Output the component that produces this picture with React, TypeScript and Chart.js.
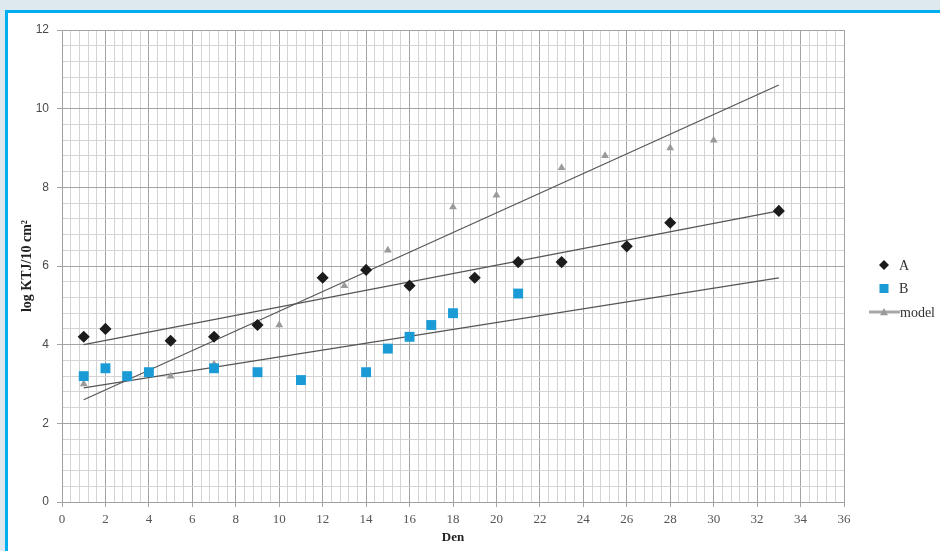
import React, { useEffect, useRef } from "react";
import { Chart, registerables } from "chart.js";

Chart.register(...registerables);

// ---- data ----
const daysA = [1, 2, 5, 7, 9, 12, 14, 16, 19, 21, 23, 26, 28, 33];
const valuesA = [4.2, 4.4, 4.1, 4.2, 4.5, 5.7, 5.9, 5.5, 5.7, 6.1, 6.1, 6.5, 7.1, 7.4];

const daysB = [1, 2, 3, 4, 7, 9, 11, 14, 15, 16, 17, 18, 21];
const valuesB = [3.2, 3.4, 3.2, 3.3, 3.4, 3.3, 3.1, 3.3, 3.9, 4.2, 4.5, 4.8, 5.3];

const daysModel = [1, 5, 7, 10, 13, 15, 18, 20, 23, 25, 28, 30];
const valuesModel = [3.0, 3.2, 3.5, 4.5, 5.5, 6.4, 7.5, 7.8, 8.5, 8.8, 9.0, 9.2];

const trendDays = [1, 33];
const trendA = [4.0, 7.4];
const trendB = [2.9, 5.7];
const trendModel = [2.6, 10.6];

const seriesLabels = ["A", "B", "model"];
const xTitle = "Den";
const yTitle = "log KTJ/10 cm²";

const X_MIN = 0, X_MAX = 36, Y_MIN = 0, Y_MAX = 12, MINOR = 0.4;

const pts = (xs: number[], ys: number[]) => xs.map((x, i) => ({ x, y: ys[i] }));
const isMajor = (v: number) => Math.round(v * 10) % 20 === 0;

const COLOR_A = "#1c1c1c";
const COLOR_B = "#1b9bd6";
const COLOR_M = "#9a9a9a";
const COLOR_TREND = "#555555";

const legendPlugin = {
  id: "customLegend",
  afterDraw(chart: any) {
    const ctx = chart.ctx as CanvasRenderingContext2D;
    const ds = chart.data.datasets.filter((d: any) => d.isSeries);
    const startY = 265;
    const step = 23.5;
    ctx.save();
    ds.forEach((d: any, i: number) => {
      const y = startY + i * step;
      const mx = 884;
      if (d.legendLine) {
        ctx.strokeStyle = "#a8a8a8";
        ctx.lineWidth = 3;
        ctx.beginPath();
        ctx.moveTo(869, y);
        ctx.lineTo(900, y);
        ctx.stroke();
      }
      ctx.fillStyle = d.pointBackgroundColor;
      ctx.beginPath();
      const r = d.legendRadius;
      if (d.pointStyle === "rectRot") {
        ctx.moveTo(mx, y - r);
        ctx.lineTo(mx + r, y);
        ctx.lineTo(mx, y + r);
        ctx.lineTo(mx - r, y);
      } else if (d.pointStyle === "rect") {
        ctx.rect(mx - r, y - r, 2 * r, 2 * r);
      } else {
        ctx.moveTo(mx, y - r);
        ctx.lineTo(mx + r, y + r * 0.8);
        ctx.lineTo(mx - r, y + r * 0.8);
      }
      ctx.closePath();
      ctx.fill();
      ctx.fillStyle = "#333";
      ctx.font = "14px 'Liberation Serif', serif";
      ctx.textBaseline = "middle";
      ctx.textAlign = "left";
      ctx.fillText(d.label, d.legendLine ? 900 : 899, y + 1);
    });
    ctx.restore();
  },
};

export default function App() {
  const ref = useRef<HTMLCanvasElement | null>(null);

  useEffect(() => {
    if (!ref.current) return;
    const trend = (label: string, ys: number[]) => ({
      label,
      data: pts(trendDays, ys),
      showLine: true,
      borderColor: COLOR_TREND,
      borderWidth: 1.2,
      pointRadius: 0,
      fill: false,
    });
    const chart = new Chart(ref.current, {
      type: "scatter",
      data: {
        datasets: [
          {
            label: seriesLabels[0],
            data: pts(daysA, valuesA),
            pointStyle: "rectRot",
            pointRadius: 5,
            pointBackgroundColor: COLOR_A,
            pointBorderColor: COLOR_A,
            pointBorderWidth: 1.5,
            showLine: false,
            isSeries: true,
            legendRadius: 5,
          } as any,
          {
            label: seriesLabels[1],
            data: pts(daysB, valuesB),
            pointStyle: "rect",
            pointRadius: 7,
            pointBackgroundColor: COLOR_B,
            pointBorderColor: COLOR_B,
            pointBorderWidth: 0,
            showLine: false,
            isSeries: true,
            legendRadius: 4.5,
          } as any,
          {
            label: seriesLabels[2],
            data: pts(daysModel, valuesModel),
            pointStyle: "triangle",
            pointRadius: 4.5,
            pointBackgroundColor: COLOR_M,
            pointBorderColor: COLOR_M,
            pointBorderWidth: 0,
            showLine: false,
            isSeries: true,
            legendLine: true,
            legendRadius: 4,
          } as any,
          trend("trendModel", trendModel),
          trend("trendA", trendA),
          trend("trendB", trendB),
        ],
      },
      options: {
        animation: false,
        responsive: false,
        devicePixelRatio: 1,
        layout: { padding: { top: 30, right: 96, left: 0, bottom: 0 } },
        plugins: {
          legend: { display: false },
          tooltip: { enabled: false },
        },
        scales: {
          x: {
            type: "linear",
            min: X_MIN,
            max: X_MAX,
            border: { display: true, color: "#a0a0a0", width: 1 },
            ticks: {
              stepSize: MINOR,
              autoSkip: false,
              maxRotation: 0,
              padding: 5,
              color: "#555",
              font: { family: "'Liberation Serif', serif", size: 13 },
              callback: (v: any) => (isMajor(Number(v)) ? String(Math.round(Number(v))) : ""),
            },
            grid: {
              color: (c: any) => (isMajor(c.tick.value) ? "#a4a4a4" : "#d4d4d4"),
              tickColor: (c: any) => (isMajor(c.tick.value) ? "#a4a4a4" : "rgba(0,0,0,0)"),
              tickLength: 5,
              lineWidth: 1,
            },
            title: {
              display: true,
              text: xTitle,
              color: "#222",
              font: { family: "'Liberation Serif', serif", size: 13, weight: "bold" },
              padding: { top: 0, bottom: 6 },
            },
            afterFit: (s: any) => {
              s.height = 49;
            },
          },
          y: {
            type: "linear",
            min: Y_MIN,
            max: Y_MAX,
            border: { display: true, color: "#a0a0a0", width: 1 },
            ticks: {
              stepSize: MINOR,
              autoSkip: false,
              padding: 8,
              color: "#4a4a4a",
              font: { family: "'Liberation Sans', sans-serif", size: 12 },
              callback: (v: any) => (isMajor(Number(v)) ? String(Math.round(Number(v))) : ""),
            },
            grid: {
              color: (c: any) => (isMajor(c.tick.value) ? "#a4a4a4" : "#d4d4d4"),
              tickColor: (c: any) => (isMajor(c.tick.value) ? "#a4a4a4" : "rgba(0,0,0,0)"),
              tickLength: 5,
              lineWidth: 1,
            },
            title: {
              display: true,
              text: yTitle,
              color: "#222",
              font: { family: "'Liberation Serif', serif", size: 14, weight: "bold" },
              padding: { top: 19, bottom: 0 },
            },
            afterFit: (s: any) => {
              s.width = 62;
            },
          },
        },
      },
      plugins: [legendPlugin],
    } as any);
    return () => chart.destroy();
  }, []);

  return (
    <div
      style={{
        position: "fixed",
        left: 0,
        top: 0,
        width: 940,
        height: 551,
        background: "#dde8ef",
        overflow: "hidden",
      }}
    >
      <div
        style={{
          position: "absolute",
          left: 5,
          top: 10,
          width: 935,
          height: 541,
          background: "#ffffff",
          borderTop: "3px solid #00aeef",
          borderLeft: "3px solid #00aeef",
          boxSizing: "border-box",
        }}
      />
      <canvas
        ref={ref}
        width={940}
        height={551}
        style={{ position: "absolute", left: 0, top: 0, width: 940, height: 551 }}
      />
    </div>
  );
}
